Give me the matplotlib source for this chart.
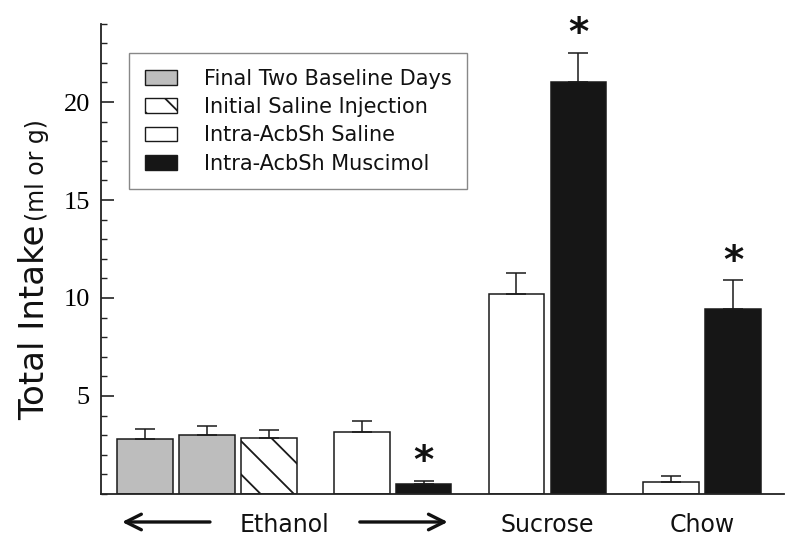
import numpy as np
import matplotlib
matplotlib.use("Agg")
import matplotlib.pyplot as plt
from matplotlib.patches import Patch
from matplotlib.ticker import MultipleLocator, FixedLocator
import matplotlib.transforms as mtransforms

# ---------------- data ----------------
conditions = ["baseline", "baseline", "initial", "saline", "muscimol",
              "saline", "muscimol", "saline", "muscimol"]
values = [2.81, 3.01, 2.86, 3.18, 0.49, 10.19, 21.04, 0.63, 9.44]
errors = [0.51, 0.46, 0.41, 0.56, 0.17, 1.09, 1.48, 0.31, 1.46]
significant = [False, False, False, False, True, False, True, False, True]
blocks = [3, 2, 2, 2]            # number of bars in each visual block
group_names = ["Ethanol", "Sucrose", "Chow"]
group_blocks = [[0, 1], [2], [3]]  # which blocks form each named group
legend_labels = ["Final Two Baseline Days", "Initial Saline Injection",
                 "Intra-AcbSh Saline", "Intra-AcbSh Muscimol"]
legend_keys = ["baseline", "initial", "saline", "muscimol"]
yticks_major = [5, 10, 15, 20]
ylabel_main = "Total Intake"
ylabel_unit = "(ml or g)"

# ---------------- styles ----------------
styles = {
    "baseline": dict(facecolor="#bdbdbd", hatch=None),
    "initial": dict(facecolor="white", hatch="\\"),
    "saline": dict(facecolor="white", hatch=None),
    "muscimol": dict(facecolor="#161616", hatch=None),
}
edge = "#1a1a1a"

plt.rcParams["hatch.linewidth"] = 1.3
plt.rcParams["font.family"] = ["DejaVu Sans"]

fig = plt.figure(figsize=(8, 5.5), dpi=100)
ax = fig.add_axes([101 / 800, 1 - 494 / 550, (784 - 101) / 800, (494 - 23.6) / 550])

# positions: unit spacing within blocks, extra 0.5 gap between blocks
positions = []
block_ranges = []
start = 0.0
for n in blocks:
    pos = [start + i for i in range(n)]
    positions.extend(pos)
    block_ranges.append((pos[0], pos[-1]))
    start = pos[-1] + 1.5
positions = np.array(positions)

width = 0.9
for x, v, e, c in zip(positions, values, errors, conditions):
    st = styles[c]
    ax.bar(x, v, width=width, color=st["facecolor"], edgecolor=edge,
           linewidth=1.1, hatch=st["hatch"], zorder=2)
    ax.errorbar(x, v, yerr=[[0], [e]], fmt="none", ecolor=edge,
                elinewidth=1.1, capsize=7, capthick=1.1, zorder=3)

for x, v, e, s in zip(positions, values, errors, significant):
    if s:
        ax.annotate("*", xy=(x, v + e), xytext=(0, 5.5), textcoords="offset points",
                    ha="center", va="baseline", fontsize=28, fontweight="bold",
                    color="#111111")

ax.set_xlim(positions[0] - 0.71, positions[-1] + 0.82)
ax.set_ylim(0, 24)

ax.spines["top"].set_visible(False)
ax.spines["right"].set_visible(False)
for sp in ("left", "bottom"):
    ax.spines[sp].set_linewidth(1.3)
    ax.spines[sp].set_color("#222222")

ax.set_xticks([])
ax.yaxis.set_major_locator(FixedLocator(yticks_major))
ax.yaxis.set_minor_locator(MultipleLocator(1))
ax.tick_params(axis="y", which="major", direction="in", length=9, width=1.2,
               color="#222222", pad=8, labelsize=19)
ax.tick_params(axis="y", which="minor", direction="in", length=4, width=1.0,
               color="#222222")
for lab in ax.get_yticklabels():
    lab.set_fontfamily("Liberation Serif")

# y label: two parts with different sizes
fig.text(43.7 / 800, 1 - 322 / 550, ylabel_main, rotation=90, fontsize=24.5,
         ha="center", va="baseline", rotation_mode="anchor", color="#111111")
fig.text(43.7 / 800, 1 - 170 / 550, ylabel_unit, rotation=90, fontsize=17,
         ha="center", va="baseline", rotation_mode="anchor", color="#111111")

# group labels under the axis
trans = mtransforms.blended_transform_factory(ax.transData, ax.transAxes)
y_text = -0.081
y_arrow = -0.0595
for name, blist in zip(group_names, group_blocks):
    lo = block_ranges[blist[0]][0]
    hi = block_ranges[blist[-1]][1]
    cx = (lo + hi) / 2
    ax.text(cx, y_text, name, transform=trans, ha="center", va="baseline",
            fontsize=17, color="#111111", clip_on=False)
    if len(blist) > 1:
        arrow_kw = dict(arrowstyle="->", lw=2.4, color="#111111",
                        mutation_scale=28, shrinkA=0, shrinkB=0)
        ax.annotate("", xy=(lo - 0.37, y_arrow), xytext=(cx - 1.2, y_arrow),
                    xycoords=trans, textcoords=trans, arrowprops=arrow_kw,
                    annotation_clip=False)
        ax.annotate("", xy=(hi + 0.39, y_arrow), xytext=(cx + 1.22, y_arrow),
                    xycoords=trans, textcoords=trans, arrowprops=arrow_kw,
                    annotation_clip=False)

# legend
handles = [Patch(facecolor=styles[k]["facecolor"], edgecolor=edge,
                 hatch=styles[k]["hatch"], linewidth=1.0) for k in legend_keys]
leg = ax.legend(handles, legend_labels, loc="upper left",
                bbox_to_anchor=(0.041, 0.9375), borderaxespad=0,
                fontsize=15, frameon=True, fancybox=False,
                edgecolor="#888888", framealpha=1, handlelength=1.55,
                handleheight=0.72, handletextpad=1.3, labelspacing=0.4,
                borderpad=0.75)
leg.get_frame().set_linewidth(1.0)
for t in leg.get_texts():
    t.set_color("#111111")

fig.savefig("out.png", dpi=100)
